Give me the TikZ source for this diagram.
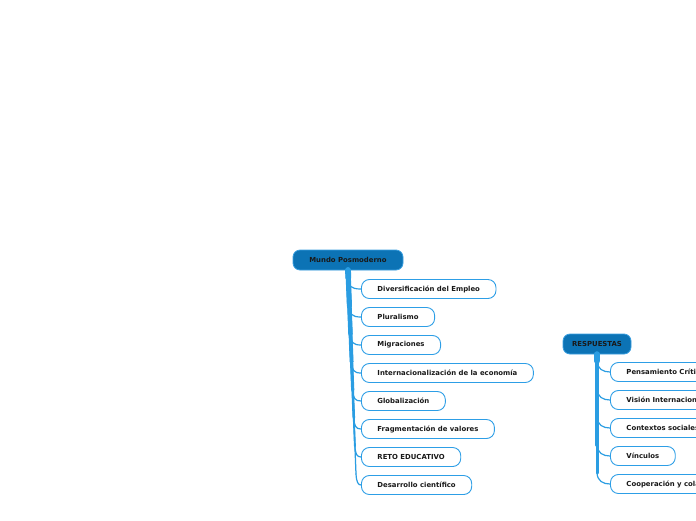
\documentclass[tikz,border=0pt]{standalone}
\usepackage{fontspec}
\setmainfont{DejaVu Sans}
\definecolor{rootfill}{HTML}{0C73B5}
\definecolor{rootline}{HTML}{3A9FE0}
\definecolor{leafline}{HTML}{2D9EE6}
\definecolor{linkcol}{HTML}{2A9DE2}
\begin{document}
\begin{tikzpicture}[x=1pt,y=-1pt,
  txt/.style={font=\fontsize{6.9}{7.5}\selectfont\bfseries, text=black!90},
  rootbox/.style={txt, draw=rootline, fill=rootfill, line width=0.8pt, rounded corners=7pt, minimum height=20pt, inner xsep=8pt, inner ysep=0pt},
  leaf/.style={txt, draw=leafline, fill=white, line width=0.9pt, rounded corners=8pt, minimum height=19pt, inner xsep=16pt, inner ysep=0pt, anchor=west},
  link/.style={draw=linkcol, line cap=round, line join=round},
  twig/.style={link, line width=1.2pt}]
\useasboundingbox (0,0) rectangle (696,520);
\clip (0,0) rectangle (696,520);

\node[rootbox, minimum width=110pt] (mp) at (348,260) {Mundo Posmoderno};
\coordinate (mpa) at (348,270);
\foreach \y/\t [count=\i] in {289/Diversificación del Empleo, 317/Pluralismo, 345/Migraciones, 373/Internacionalización de la economía, 401/Globalización, 429/Fragmentación de valores, 457/RETO EDUCATIVO, 485/Desarrollo científico}{
  \node[leaf] (m\i) at (361,\y) {\t};
  \pgfmathsetmacro{\w}{5.8-(\i-1)*0.65}
  \pgfmathsetmacro{\xb}{348+8*(\y-11-270)/204}
  \draw[link, line width=\w pt] (mpa) -- (\xb,\y-11);
  \draw[twig] (\xb,\y-11) .. controls (\xb+0.5,\y-3) and (\xb+2,\y) .. (m\i.west);
}

\node[rootbox, minimum width=68pt] (rs) at (597,344) {RESPUESTAS};
\coordinate (rsa) at (597,354);
\foreach \y/\t [count=\i] in {372/Pensamiento Crítico, 400/Visión Internacional, 428/Contextos sociales, 456/Vínculos, 484/Cooperación y colaboración}{
  \node[leaf] (r\i) at (610,\y) {\t};
  \pgfmathsetmacro{\w}{5.4-(\i-1)*0.6}
  \draw[link, line width=\w pt] (rsa) -- (597,\y-11);
  \draw[twig] (597,\y-11) .. controls (597.5,\y-3) and (603,\y) .. (r\i.west);
}
\end{tikzpicture}
\end{document}
